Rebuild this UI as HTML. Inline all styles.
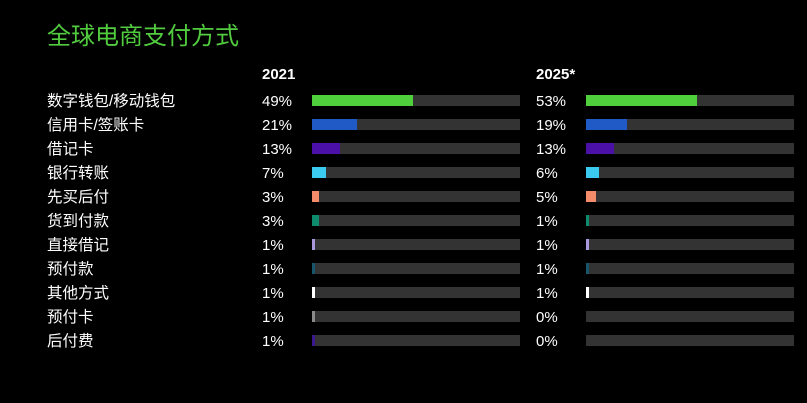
<!DOCTYPE html>
<html><head><meta charset="utf-8"><style>
body{margin:0;background:#000;width:807px;height:403px;overflow:hidden;position:relative;font-family:"Liberation Sans","Noto Sans CJK SC",sans-serif;color:#fff}
.t{position:absolute;left:47px;top:16px;font-size:24px;color:#52cc3f}
.h{position:absolute;top:66px;font-size:15px;font-weight:bold}
.r{position:absolute;left:0;width:807px;height:24px}
.l{position:absolute;left:47px;top:0;font-size:15.5px;line-height:22px}
.p{position:absolute;top:0;font-size:15px;line-height:22px}
.bg{position:absolute;top:4px;height:11px;width:208px;background:#333}
.bg i{position:absolute;left:0;top:0;height:11px}
</style></head><body>
<div class="t">全球电商支付方式</div>
<div class="h" style="left:262px">2021</div>
<div class="h" style="left:536px">2025*</div>
<div id="c"></div>
<script>
var d=[["数字钱包/移动钱包",49,53,"#4fcf3c",101,111],["信用卡/签账卡",21,19,"#1f5ac6",45,41],["借记卡",13,13,"#4a10a8",28,28],["银行转账",7,6,"#3ccbf0",14,13],["先买后付",3,5,"#f48c6c",7,10],["货到付款",3,1,"#0e8a6c",7,3],["直接借记",1,1,"#a999dc",3,3],["预付款",1,1,"#17566a",3,3],["其他方式",1,1,"#ffffff",3,3],["预付卡",1,0,"#8a8a8a",3,0],["后付费",1,0,"#3a1890",3,0]];
var h="";d.forEach(function(r,i){var y=91+i*24;
h+='<div class="r" style="top:'+y+'px"><div class="l">'+r[0]+'</div><div class="p" style="left:262px">'+r[1]+'%</div><div class="bg" style="left:312px"><i style="width:'+r[4]+'px;background:'+r[3]+'"></i></div><div class="p" style="left:536px">'+r[2]+'%</div><div class="bg" style="left:586px"><i style="width:'+r[5]+'px;background:'+r[3]+'"></i></div></div>';});
document.getElementById("c").innerHTML=h;
</script>
</body></html>
